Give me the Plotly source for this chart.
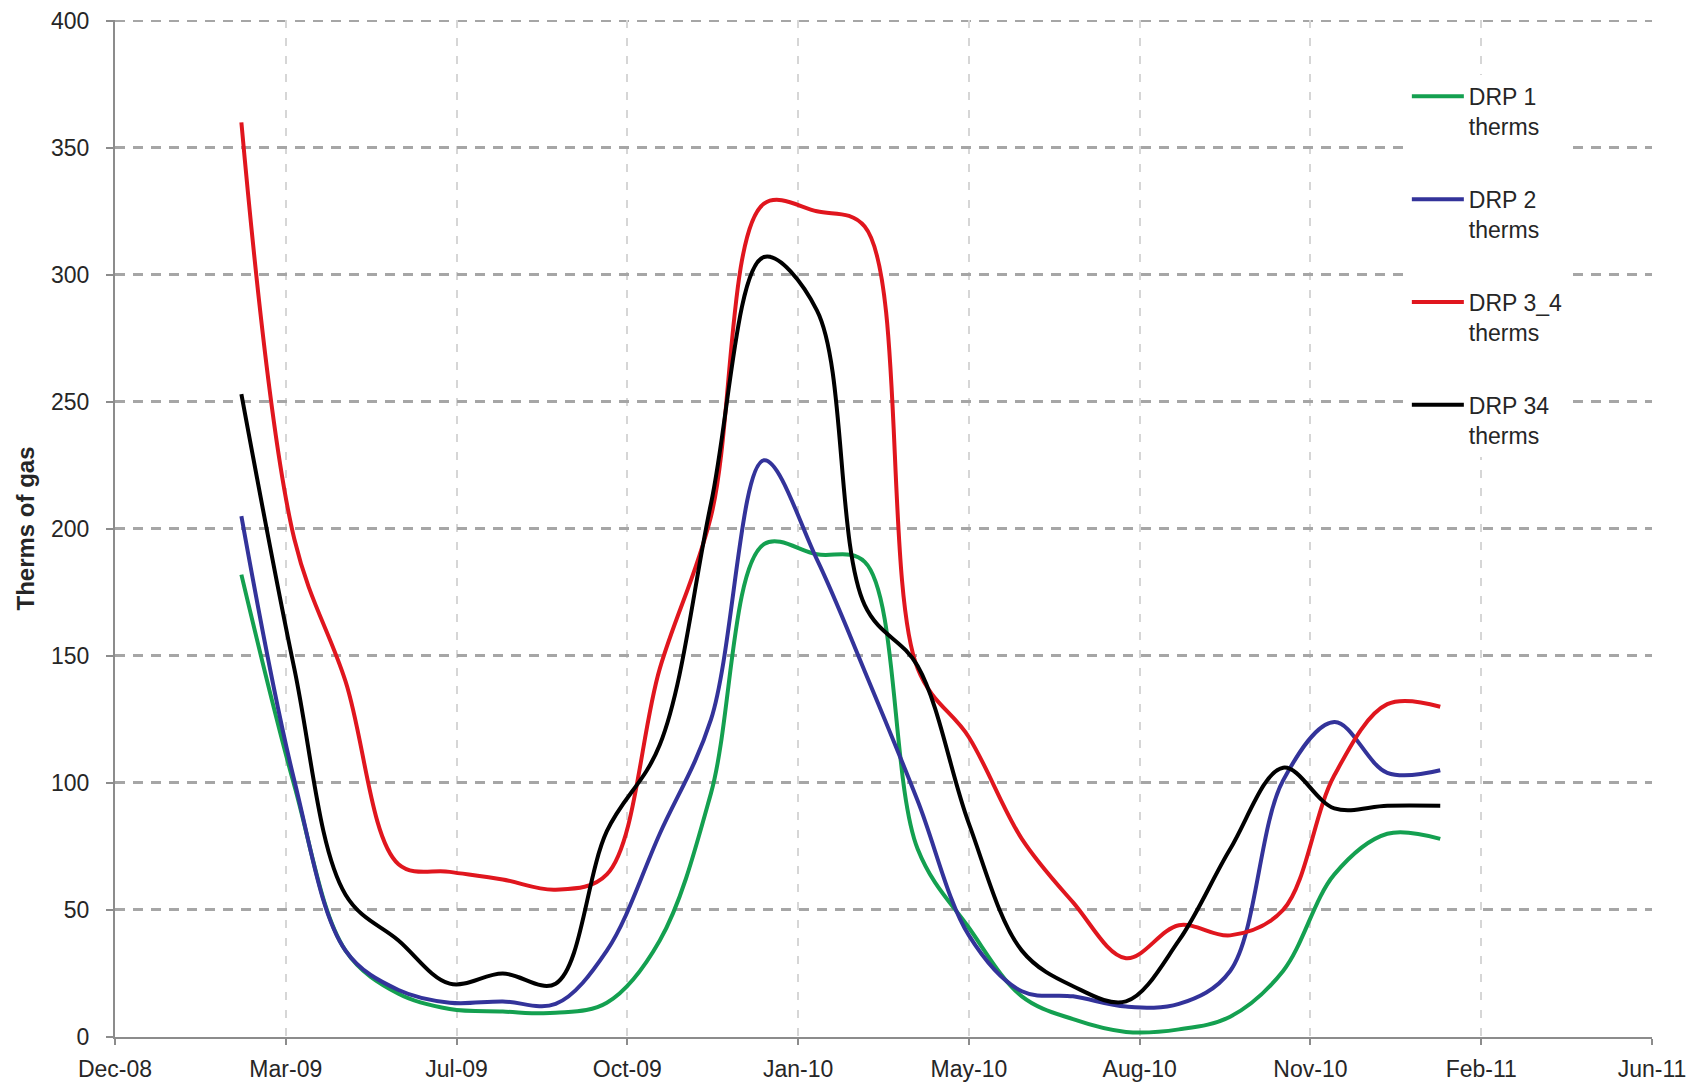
import plotly.graph_objects as go

months = ["2009-03-01", "2009-04-01", "2009-05-01", "2009-06-01", "2009-07-01", "2009-08-01",
          "2009-09-01", "2009-10-01", "2009-11-01", "2009-12-01", "2010-01-01", "2010-02-01",
          "2010-03-01", "2010-04-01", "2010-05-01", "2010-06-01", "2010-07-01", "2010-08-01",
          "2010-09-01", "2010-10-01", "2010-11-01", "2010-12-01", "2011-01-01", "2011-02-01"]

drp1 = [182, 99, 34, 17, 11, 10, 9.5, 13.5, 38, 96, 194, 190,
        187, 74, 43, 16, 7, 2, 3, 8, 26, 64, 80, 78]
drp2 = [205, 101, 34, 18.5, 13.5, 14, 13, 34, 80, 125, 227, 188,
        144, 93, 40, 18, 16, 12, 13, 26, 101, 124, 104, 105]
drp3_4 = [360, 196, 140, 68, 65, 62, 58, 64, 145, 205, 328, 325,
          319, 145, 118, 78, 53, 31, 44, 40, 50, 103, 131, 130]
drp34 = [253, 145, 56, 38, 21, 25, 21, 81, 115, 210, 307, 286,
         170, 146, 84, 34, 20, 14, 38, 74, 106, 90, 91, 91]

series_names = ["DRP 1<br>therms", "DRP 2<br>therms", "DRP 3_4<br>therms", "DRP 34<br>therms"]
series_colors = ["#14a050", "#33339a", "#e0161e", "#000000"]
y_ticks = [0, 50, 100, 150, 200, 250, 300, 350, 400]
y_max = 400

x_tick0 = "2008-12-17"
x_end = "2011-06-05"
day_ms = 86400000

font_family = "Liberation Sans, Arial, sans-serif"
text_color = "#262626"
hgrid_color = "#a6a6a6"

fig = go.Figure()
for i, (name, vals, col) in enumerate(zip(series_names, [drp1, drp2, drp3_4, drp34], series_colors)):
    fig.add_trace(go.Scatter(
        x=months, y=vals, name=name, mode="lines",
        line=dict(color=col, width=4, shape="spline", smoothing=1.0),
        legendgroup=f"g{i}",
    ))

# page body has an 8px margin, so the figure is drawn 8px smaller
fig.update_layout(
    width=1697, height=1080,
    margin=dict(l=107, r=53, t=12, b=51, autoexpand=False),
    paper_bgcolor="white", plot_bgcolor="white",
    font=dict(family=font_family, size=23, color=text_color),
    showlegend=True,
    legend=dict(
        x=0.8405, y=0.946, xanchor="left", yanchor="top",
        bgcolor="white", borderwidth=0,
        font=dict(size=23, color=text_color),
        tracegroupgap=40, valign="top", itemwidth=52,
    ),
    annotations=[dict(
        text="<b>Therms of gas</b>", textangle=-90,
        xref="paper", yref="paper", x=0, y=0.5, xshift=-90,
        xanchor="center", yanchor="middle", showarrow=False,
        font=dict(size=24, color=text_color, family=font_family),
    )],
    shapes=[dict(
        type="line", xref="paper", yref="y", x0=0, x1=1, y0=y_max, y1=y_max,
        line=dict(color=hgrid_color, width=2.5, dash="10px,8px"), layer="below",
    )],
)

fig.update_xaxes(
    type="date", range=[x_tick0, x_end], automargin=False,
    tick0=x_tick0, dtick=100 * day_ms, tickformat="%b-%y",
    showline=True, linecolor="#8c8c8c", linewidth=2,
    ticks="outside", ticklen=6, tickcolor="#8c8c8c", tickwidth=2,
    showgrid=True, gridcolor="#d6d6d6", gridwidth=2, griddash="8px,10px",
    zeroline=False, ticklabelstandoff=4,
)
fig.update_yaxes(
    range=[0, 400.3], tickmode="array", tickvals=y_ticks, automargin=False,
    showline=True, linecolor="#8c8c8c", linewidth=2,
    ticks="outside", ticklen=7, tickcolor="#8c8c8c", tickwidth=2,
    showgrid=True, gridcolor=hgrid_color, gridwidth=2.5, griddash="10px,8px",
    zeroline=False, ticklabelstandoff=12, ticklabeloverflow="allow",
)

fig.write_html("out.html")
